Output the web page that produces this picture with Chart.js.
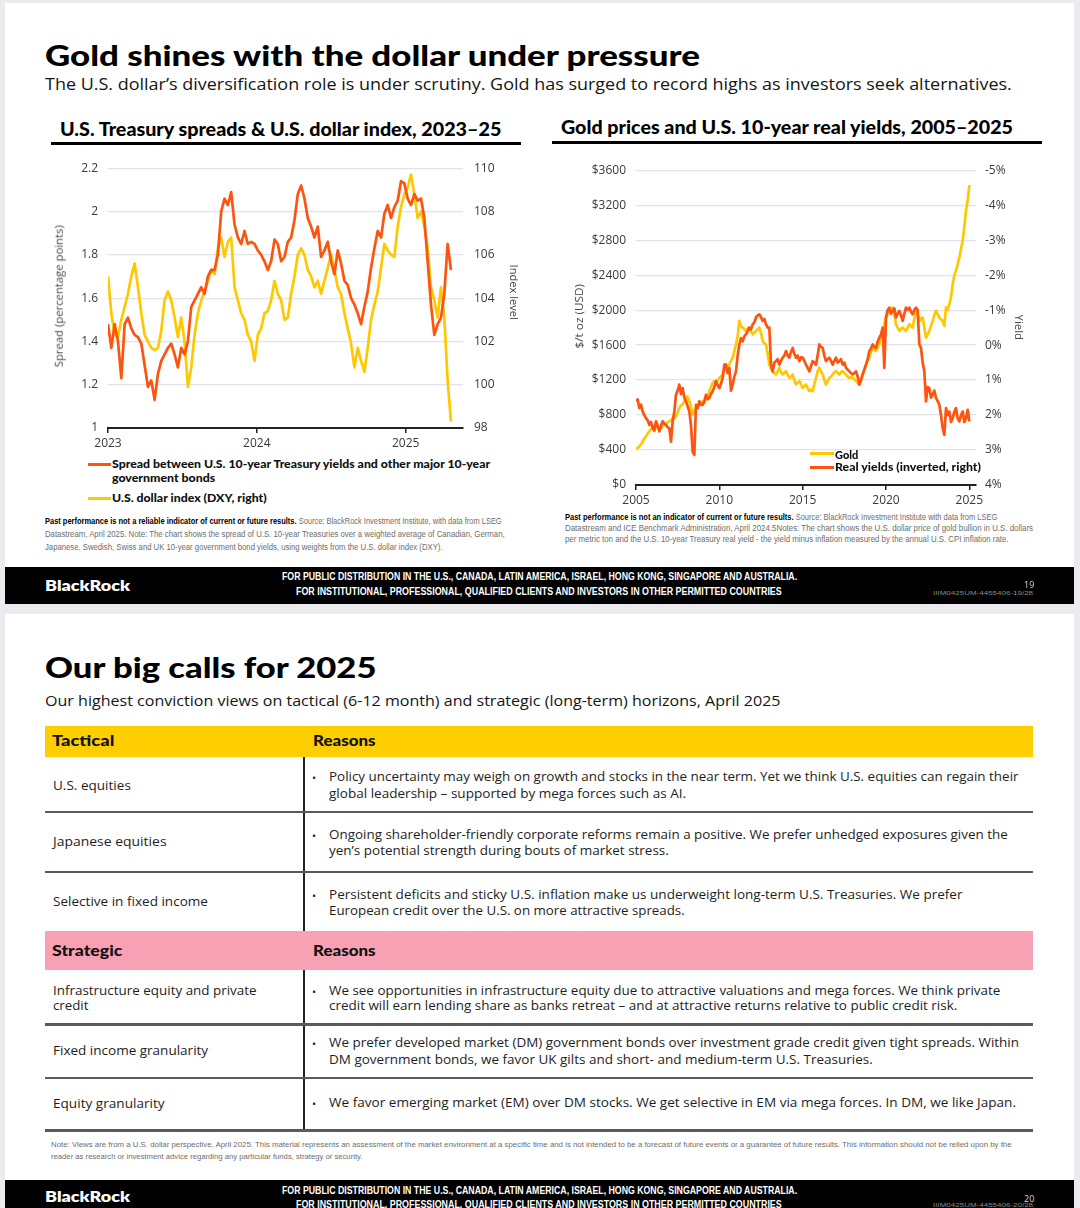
<!DOCTYPE html>
<html><head><meta charset="utf-8">
<script src="https://cdn.jsdelivr.net/npm/chart.js@4.4.1/dist/chart.umd.min.js"></script>
<style>
html,body{margin:0;padding:0;}
body{width:1080px;height:1208px;background:#ebebef;position:relative;overflow:hidden;}
.r{position:absolute;}
.t{position:absolute;white-space:nowrap;line-height:1;}
canvas{position:absolute;}
</style></head><body>
<!-- slide backgrounds -->
<div class="r" style="left:5px;top:3px;width:1069px;height:565px;background:#fff"></div>
<div class="r" style="left:5px;top:567px;width:1069px;height:37px;background:#000"></div>
<div class="r" style="left:5px;top:614px;width:1069px;height:566px;background:#fff"></div>
<div class="r" style="left:5px;top:1180px;width:1069px;height:28px;background:#000"></div>
<!-- chart title rules -->
<div class="r" style="left:51px;top:142px;width:470px;height:2.5px;background:#000"></div>
<div class="r" style="left:552px;top:141px;width:490px;height:2.5px;background:#000"></div>
<!-- legend swatches -->
<div class="r" style="left:88px;top:463px;width:23px;height:2.6px;background:#FF5310"></div>
<div class="r" style="left:88px;top:497px;width:23px;height:2.6px;background:#FFC800"></div>
<div class="r" style="left:810px;top:452px;width:24px;height:2.6px;background:#FFC800"></div>
<div class="r" style="left:810px;top:466px;width:24px;height:2.6px;background:#FF5310"></div>
<!-- table -->
<div class="r" style="left:45px;top:726px;width:988px;height:31px;background:#FFCE00"></div>
<div class="r" style="left:45px;top:931px;width:988px;height:39px;background:#F9A1B4"></div>
<div class="r" style="left:303px;top:757px;width:1.5px;height:174px;background:#222"></div>
<div class="r" style="left:303px;top:970px;width:1.5px;height:160px;background:#222"></div>
<div class="r" style="left:45px;top:810.5px;width:988px;height:2.5px;background:#5a5a5a"></div>
<div class="r" style="left:45px;top:870.5px;width:988px;height:2.5px;background:#5a5a5a"></div>
<div class="r" style="left:45px;top:1023px;width:988px;height:2.5px;background:#5a5a5a"></div>
<div class="r" style="left:45px;top:1076.5px;width:988px;height:2.5px;background:#5a5a5a"></div>
<div class="r" style="left:45px;top:1129px;width:988px;height:2.5px;background:#5a5a5a"></div>

<canvas id="c1" width="474" height="302" style="left:51px;top:150px"></canvas>
<canvas id="c2" width="446" height="356" style="left:580px;top:153px"></canvas>

<script>
// ---------------- DATA ----------------
// Left chart: sampled roughly every 8 days from Jan 2023
const spreadStartYear = 2023.0;
const spreadStepYears = 0.02237;
const spreadValues = [
1.48,1.37,1.48,1.40,1.23,1.48,1.51,1.46,1.43,1.42,
1.39,1.29,1.19,1.22,1.13,1.25,1.31,1.34,1.37,1.39,
1.34,1.28,1.37,1.34,1.40,1.56,1.59,1.62,1.65,1.62,
1.70,1.73,1.73,1.80,2.00,2.06,2.03,2.09,1.94,1.88,
1.85,1.91,1.85,1.86,1.85,1.82,1.80,1.77,1.73,1.77,
1.87,1.85,1.77,1.79,
1.86,1.88,1.96,2.08,2.12,2.06,1.97,1.93,1.88,1.93,
1.79,1.82,1.86,1.77,1.71,1.82,1.76,1.68,1.66,1.60,
1.57,1.53,1.48,1.56,1.63,1.74,1.83,1.91,1.88,1.99,
2.03,1.97,2.02,2.05,2.14,2.13,2.06,2.03,2.08,2.05,
2.06,1.97,1.77,1.57,1.43,1.48,1.51,1.62,1.85,1.73];
const dxyValues = [
105.0,103.3,102.3,102.2,103.0,103.6,104.2,105.0,105.6,104.5,
103.3,102.3,102.0,101.7,101.6,101.7,102.5,103.9,104.3,103.9,
103.1,102.2,103.1,102.0,99.9,100.8,102.3,103.3,103.9,104.3,
104.8,105.3,105.1,106.3,106.8,105.9,106.6,106.8,104.5,103.9,
103.3,103.0,102.3,102.0,101.1,102.3,102.6,103.3,103.4,103.9,
104.8,104.2,103.9,103.0,
103.1,104.2,105.0,106.0,106.3,106.0,105.3,105.0,104.5,104.8,
104.2,104.8,105.4,106.0,105.3,104.5,104.2,103.3,102.6,101.9,
100.8,101.7,101.1,100.6,101.7,103.0,103.7,104.3,105.4,106.5,
106.2,106.0,105.9,107.3,108.2,108.8,109.1,109.7,108.8,107.7,
108.0,107.3,106.3,104.5,103.9,103.1,104.5,103.1,100.2,98.3];
const leftYearTicks = [2023, 2024, 2025];

// Right chart: every 0.1 year from 2005
const goldStartYear = 2005.0;
const goldStepYears = 0.1;
const goldValues = [
421,425,440,465,498,530,556,590,613,635,
651,680,690,650,632,645,670,690,709,715,
728,740,766,760,785,830,881,910,920,960,
996,1010,958,900,805,850,881,900,920,940,
958,940,996,1000,1073,1120,1169,1188,1188,1200,
1226,1240,1264,1300,1379,1360,1379,1420,1456,1530,
1609,1700,1877,1820,1801,1780,1762,1790,1801,1760,
1724,1740,1762,1780,1801,1740,1648,1620,1609,1500,
1379,1330,1303,1280,1264,1300,1341,1290,1264,1280,
1303,1260,1226,1240,1264,1200,1149,1170,1188,1150,
1111,1130,1149,1110,1073,1090,1073,1150,1226,1300,
1341,1300,1264,1200,1149,1190,1226,1240,1264,1290,
1303,1280,1264,1290,1303,1280,1264,1240,1226,1230,
1226,1210,1188,1170,1149,1200,1264,1320,1379,1420,
1456,1520,1571,1550,1533,1570,1609,1700,1762,1840,
1916,1960,1992,2010,2031,1950,1839,1800,1762,1780,
1801,1780,1762,1800,1839,1820,1801,1900,1992,1950,
1877,1900,1916,1800,1686,1720,1762,1820,1877,1940,
1992,1950,1916,1890,1877,1820,2031,2000,2069,2150,
2299,2400,2452,2520,2605,2700,2797,2950,3142,3250,
3429];
const realYieldValues = [
1.61,1.55,1.80,1.70,1.90,2.00,2.09,2.15,2.28,2.20,
2.38,2.45,2.18,2.30,2.47,2.30,2.18,2.25,2.28,2.35,
2.38,2.76,2.18,1.90,1.42,1.30,1.13,1.40,1.23,1.50,
1.61,1.75,1.90,2.30,3.05,3.14,1.71,1.80,1.61,1.70,
1.71,1.60,1.42,1.55,1.51,1.40,1.32,1.20,1.03,1.15,
1.23,1.10,0.94,0.56,0.56,0.80,0.65,1.30,1.13,0.90,
0.75,0.30,-0.02,-0.20,-0.11,-0.25,-0.31,-0.40,-0.50,-0.45,
-0.59,-0.65,-0.79,-0.85,-0.88,-0.80,-0.69,-0.75,-0.59,-0.50,
-0.50,0.56,0.75,0.50,0.46,0.40,0.56,0.45,0.36,0.30,
0.17,0.30,0.36,0.20,0.08,0.25,0.36,0.30,0.46,0.35,
0.36,0.45,0.56,0.65,0.75,0.60,0.46,0.50,0.56,0.30,
-0.02,0.05,0.08,0.30,0.46,0.40,0.36,0.45,0.56,0.45,
0.36,0.50,0.46,0.40,0.56,0.50,0.65,0.70,0.75,0.80,
0.84,0.80,0.75,0.90,1.13,1.00,0.84,0.70,0.56,0.40,
0.17,0.10,-0.02,0.05,0.08,-0.10,-0.21,-0.30,-0.50,0.65,
-0.79,-1.00,-1.07,-0.90,-0.98,-1.05,-0.79,-0.90,-0.98,-0.85,
-0.69,-0.90,-1.07,-1.00,-1.07,-0.95,-0.88,-1.00,-1.07,-1.00,
-0.02,0.08,0.50,0.75,1.61,1.20,1.23,1.50,1.42,1.30,
1.51,1.60,1.71,2.00,2.38,2.57,1.80,2.00,1.90,2.20,
2.09,1.90,1.80,2.10,2.18,2.00,1.90,2.20,2.09,1.85,
2.18];

// Table content
const tacticalRows = [
  {name:['U.S. equities'], reasons:['Policy uncertainty may weigh on growth and stocks in the near term. Yet we think U.S. equities can regain their','global leadership – supported by mega forces such as AI.']},
  {name:['Japanese equities'], reasons:['Ongoing shareholder-friendly corporate reforms remain a positive. We prefer unhedged exposures given the','yen’s potential strength during bouts of market stress.']},
  {name:['Selective in fixed income'], reasons:['Persistent deficits and sticky U.S. inflation make us underweight long-term U.S. Treasuries. We prefer','European credit over the U.S. on more attractive spreads.']}
];
const strategicRows = [
  {name:['Infrastructure equity and private','credit'], reasons:['We see opportunities in infrastructure equity due to attractive valuations and mega forces. We think private','credit will earn lending share as banks retreat – and at attractive returns relative to public credit risk.']},
  {name:['Fixed income granularity'], reasons:['We prefer developed market (DM) government bonds over investment grade credit given tight spreads. Within','DM government bonds, we favor UK gilts and short- and medium-term U.S. Treasuries.']},
  {name:['Equity granularity'], reasons:['We favor emerging market (EM) over DM stocks. We get selective in EM via mega forces. In DM, we like Japan.']}
];

// ---------------- STYLE ----------------
const YEL = '#FFC800', ORG = '#FF5310', GRID = '#e2e2ea', TICK = '#3a3a3a';
const HEAD = '"Lato","Open Sans",sans-serif';
const BODY = '"Open Sans","Lato",sans-serif';
const NARROW = '"Liberation Sans Narrow","Liberation Sans",sans-serif';

function T(o){
  const d = document.createElement('div');
  d.className = 't';
  d.innerHTML = o.h;
  d.style.fontSize = o.s + 'px';
  d.style.fontFamily = o.f || BODY;
  d.style.fontWeight = o.wt || 400;
  d.style.color = o.c || '#1a1a1a';
  document.body.appendChild(d);
  const nw = d.offsetWidth, nh = d.offsetHeight;
  const sx = o.w ? o.w / nw : 1;
  if (o.r) {
    d.style.left = (o.x - nw / 2) + 'px';
    d.style.top = (o.y - nh / 2) + 'px';
    d.style.transformOrigin = '50% 50%';
    d.style.transform = 'rotate(' + o.r + 'deg) scaleX(' + sx + ')';
  } else {
    d.style.left = o.x + 'px';
    d.style.top = (o.y - nh * 0.53) + 'px';
    d.style.transformOrigin = '0 50%';
    d.style.transform = 'scaleX(' + sx + ')';
  }
  return d;
}

// ---------------- TEXT: slide 1 ----------------
T({h:'Gold shines with the dollar under pressure', x:45, y:56, w:655, s:28, f:HEAD, wt:900, c:'#000'});
T({h:'The U.S. dollar’s diversification role is under scrutiny. Gold has surged to record highs as investors seek alternatives.', x:45, y:85, w:967, s:16.5, c:'#151515'});
T({h:'U.S. Treasury spreads &amp; U.S. dollar index, 2023–25', x:60, y:130, w:441, s:18, f:HEAD, wt:900, c:'#000'});
T({h:'Gold prices and U.S. 10-year real yields, 2005–2025', x:561, y:128, w:452, s:18, f:HEAD, wt:900, c:'#000'});
T({h:'Spread (percentage points)', x:59, y:296, w:142, s:10.5, c:'#444', r:-90});
T({h:'Index level', x:514, y:292, w:55, s:10.5, c:'#444', r:90});
T({h:'$/t oz (USD)', x:579, y:316, w:65, s:10.5, c:'#444', r:-90});
T({h:'Yield', x:1019, y:327, w:26, s:10.5, c:'#444', r:90});
T({h:'Spread between U.S. 10-year Treasury yields and other major 10-year', x:112, y:464, w:378, s:11.5, f:HEAD, wt:900, c:'#111'});
T({h:'government bonds', x:112, y:478.5, w:103, s:11.5, f:HEAD, wt:900, c:'#111'});
T({h:'U.S. dollar index (DXY, right)', x:112, y:498, w:155, s:11.5, f:HEAD, wt:900, c:'#111'});
T({h:'Gold', x:835, y:455, w:23, s:11.5, f:HEAD, wt:900, c:'#111'});
T({h:'Real yields (inverted, right)', x:835, y:467.5, w:146, s:11.5, f:HEAD, wt:900, c:'#111'});
const FN = '#6d6d6d';
T({h:'<span style="color:#000;font-weight:700">Past performance is not a reliable indicator of current or future results.</span> Source: BlackRock Investment Institute, with data from LSEG', x:45, y:521.7, w:457, s:8.5, f:NARROW, c:FN});
T({h:'Datastream, April 2025. Note: The chart shows the spread of U.S. 10-year Treasuries over a weighted average of Canadian, German,', x:45, y:535, w:460, s:8.5, f:NARROW, c:FN});
T({h:'Japanese, Swedish, Swiss and UK 10-year government bond yields, using weights from the U.S. dollar index (DXY).', x:45, y:547.3, w:398, s:8.5, f:NARROW, c:FN});
T({h:'<span style="color:#000;font-weight:700">Past performance is not an indicator of current or future results.</span> Source: BlackRock Investment Institute with data from LSEG', x:565, y:517.3, w:432, s:8.5, f:NARROW, c:FN});
T({h:'Datastream and ICE Benchmark Administration, April 2024.5Notes: The chart shows the U.S. dollar price of gold bullion in U.S. dollars', x:565, y:529, w:468, s:8.5, f:NARROW, c:FN});
T({h:'per metric ton and the U.S. 10-year Treasury real yield - the yield minus inflation measured by the annual U.S. CPI inflation rate.', x:565, y:540, w:444, s:8.5, f:NARROW, c:FN});
// footer 1
T({h:'BlackRock', x:45, y:585.7, w:85, s:15, f:HEAD, wt:800, c:'#fff'});
T({h:'FOR PUBLIC DISTRIBUTION IN THE U.S., CANADA, LATIN AMERICA, ISRAEL, HONG KONG, SINGAPORE AND AUSTRALIA.', x:282.4, y:577, w:515, s:10, f:NARROW, wt:700, c:'#fff'});
T({h:'FOR INSTITUTIONAL, PROFESSIONAL, QUALIFIED CLIENTS AND INVESTORS IN OTHER PERMITTED COUNTRIES', x:296, y:592.5, w:486, s:10, f:NARROW, wt:700, c:'#fff'});
T({h:'IIIM0425UM-4455406-19/28', x:933, y:593, w:100, s:6, f:NARROW, c:'#8a8a8a'});
T({h:'19', x:1024, y:585, w:10, s:9, f:BODY, c:'#d8d8d8'});

// ---------------- TEXT: slide 2 ----------------
T({h:'Our big calls for 2025', x:45, y:668, w:332, s:28, f:HEAD, wt:900, c:'#000'});
T({h:'Our highest conviction views on tactical (6-12 month) and strategic (long-term) horizons, April 2025', x:45, y:700.5, w:735, s:15, c:'#151515'});
T({h:'Tactical', x:52, y:742, w:62, s:14.5, f:HEAD, wt:900, c:'#111'});
T({h:'Reasons', x:313, y:742, w:63, s:14.5, f:HEAD, wt:900, c:'#111'});
T({h:'Strategic', x:52, y:952, w:71, s:14.5, f:HEAD, wt:900, c:'#111'});
T({h:'Reasons', x:313, y:952, w:63, s:14.5, f:HEAD, wt:900, c:'#111'});

const rowLayout = [
  {ny:[786.5], nw:[78], ry:[778.3,795], rw:[689.5,357.5]},
  {ny:[843.3], nw:[113.7], ry:[836,851.7], rw:[678.5,339.5]},
  {ny:[903], nw:[155], ry:[895.7,911.7], rw:[633,355.5]},
  {ny:[991.5,1006.7], nw:[204,35], ry:[991.7,1006.7], rw:[671.5,628.8]},
  {ny:[1051.7], nw:[155.7], ry:[1044,1060.5], rw:[689.5,544]},
  {ny:[1105], nw:[112], ry:[1104], rw:[687.5]}
];
tacticalRows.concat(strategicRows).forEach((row, i) => {
  const L = rowLayout[i];
  row.name.forEach((n, j) => T({h:n, x:53, y:L.ny[j], w:L.nw[j], s:12.5, c:'#1e1e1e'}));
  T({h:'•', x:312, y:L.ry[0], s:11, c:'#1e1e1e'});
  row.reasons.forEach((r, j) => T({h:r, x:328.5, y:L.ry[j], w:L.rw[j], s:12.5, c:'#1e1e1e'}));
});
T({h:'Note: Views are from a U.S. dollar perspective, April 2025. This material represents an assessment of the market environment at a specific time and is not intended to be a forecast of future events or a guarantee of future results. This information should not be relied upon by the', x:51, y:1145.7, w:961, s:8, f:NARROW, c:FN});
T({h:'reader as research or investment advice regarding any particular funds, strategy or security.', x:51, y:1157.3, w:311, s:8, f:NARROW, c:FN});
// footer 2
T({h:'BlackRock', x:45, y:1197, w:85, s:15, f:HEAD, wt:800, c:'#fff'});
T({h:'FOR PUBLIC DISTRIBUTION IN THE U.S., CANADA, LATIN AMERICA, ISRAEL, HONG KONG, SINGAPORE AND AUSTRALIA.', x:282.4, y:1191.7, w:515, s:10, f:NARROW, wt:700, c:'#fff'});
T({h:'FOR INSTITUTIONAL, PROFESSIONAL, QUALIFIED CLIENTS AND INVESTORS IN OTHER PERMITTED COUNTRIES', x:296, y:1205, w:486, s:10, f:NARROW, wt:700, c:'#fff'});
T({h:'IIIM0425UM-4455406-20/28', x:933, y:1205, w:100, s:6, f:NARROW, c:'#8a8a8a'});
T({h:'20', x:1024, y:1199, w:10, s:9, f:BODY, c:'#d8d8d8'});

// ---------------- CHARTS ----------------
const tickFont = {family: BODY, size: 12};
const lineDs = (label, pts, axis, color) => ({label, data: pts, yAxisID: axis, borderColor: color,
  borderWidth: 2.7, pointRadius: 0, tension: 0, fill: false, borderJoinStyle: 'round'});

new Chart(document.getElementById('c1'), {
  type: 'line',
  data: {datasets: [
    lineDs('Spread between U.S. 10-year Treasury yields and other major 10-year government bonds',
      spreadValues.map((v, i) => ({x: spreadStartYear + i * spreadStepYears, y: v})), 'y', ORG),
    lineDs('U.S. dollar index (DXY, right)',
      dxyValues.map((v, i) => ({x: spreadStartYear + i * spreadStepYears, y: v})), 'y1', YEL)
  ]},
  options: {
    responsive: false, animation: false, events: [],
    layout: {padding: {top: 3, left: 0, right: 0, bottom: 0}},
    plugins: {legend: {display: false}, tooltip: {enabled: false}},
    scales: {
      x: {type: 'linear', min: 2023, max: 2025.385,
        afterFit: s => { s.height = 24; },
        afterBuildTicks: s => { s.ticks = leftYearTicks.map(v => ({value: v})); },
        ticks: {autoSkip: false, maxRotation: 0, padding: 3, color: TICK, font: tickFont, callback: v => String(v)},
        grid: {drawOnChartArea: false, drawTicks: true, tickLength: 5, color: '#222', lineWidth: 1.5},
        border: {display: true, color: '#222', width: 2}},
      y: {position: 'left', min: 1, max: 2.2,
        afterFit: s => { s.width = 57; },
        ticks: {stepSize: 0.2, padding: 10, color: TICK, font: tickFont, callback: v => String(parseFloat(v.toFixed(1)))},
        grid: {color: GRID, drawTicks: false, lineWidth: 1.2},
        border: {display: false}},
      y1: {position: 'right', min: 98, max: 110,
        afterFit: s => { s.width = 62; },
        ticks: {stepSize: 2, padding: 11, color: TICK, font: tickFont, callback: v => String(v)},
        grid: {display: false, drawTicks: false},
        border: {display: false}}
    }
  }
});

new Chart(document.getElementById('c2'), {
  type: 'line',
  data: {datasets: [
    lineDs('Real yields (inverted, right)',
      realYieldValues.map((v, i) => ({x: goldStartYear + i * goldStepYears, y: v})), 'y1', ORG),
    lineDs('Gold',
      goldValues.map((v, i) => ({x: goldStartYear + i * goldStepYears, y: v})), 'y', YEL)
  ]},
  options: {
    responsive: false, animation: false, events: [],
    layout: {padding: {top: 3, left: 0, right: 0, bottom: 0}},
    plugins: {legend: {display: false}, tooltip: {enabled: false}},
    scales: {
      x: {type: 'linear', min: 2005, max: 2025.4,
        afterFit: s => { s.height = 24; },
        ticks: {stepSize: 5, includeBounds: false, autoSkip: false, maxRotation: 0, padding: 3, color: TICK, font: tickFont, callback: v => String(v)},
        grid: {drawOnChartArea: false, drawTicks: true, tickLength: 5, color: '#222', lineWidth: 1.5},
        border: {display: true, color: '#222', width: 2}},
      y: {position: 'left', min: 0, max: 3600,
        afterFit: s => { s.width = 56; },
        ticks: {stepSize: 400, padding: 10, color: TICK, font: tickFont, callback: v => '$' + v},
        grid: {color: GRID, drawTicks: false, lineWidth: 1.2},
        border: {display: false}},
      y1: {position: 'right', min: -5, max: 4, reverse: true,
        afterFit: s => { s.width = 50; },
        ticks: {stepSize: 1, padding: 9, color: TICK, font: tickFont, callback: v => v + '%'},
        grid: {display: false, drawTicks: false},
        border: {display: false}}
    }
  }
});
</script>
</body></html>
